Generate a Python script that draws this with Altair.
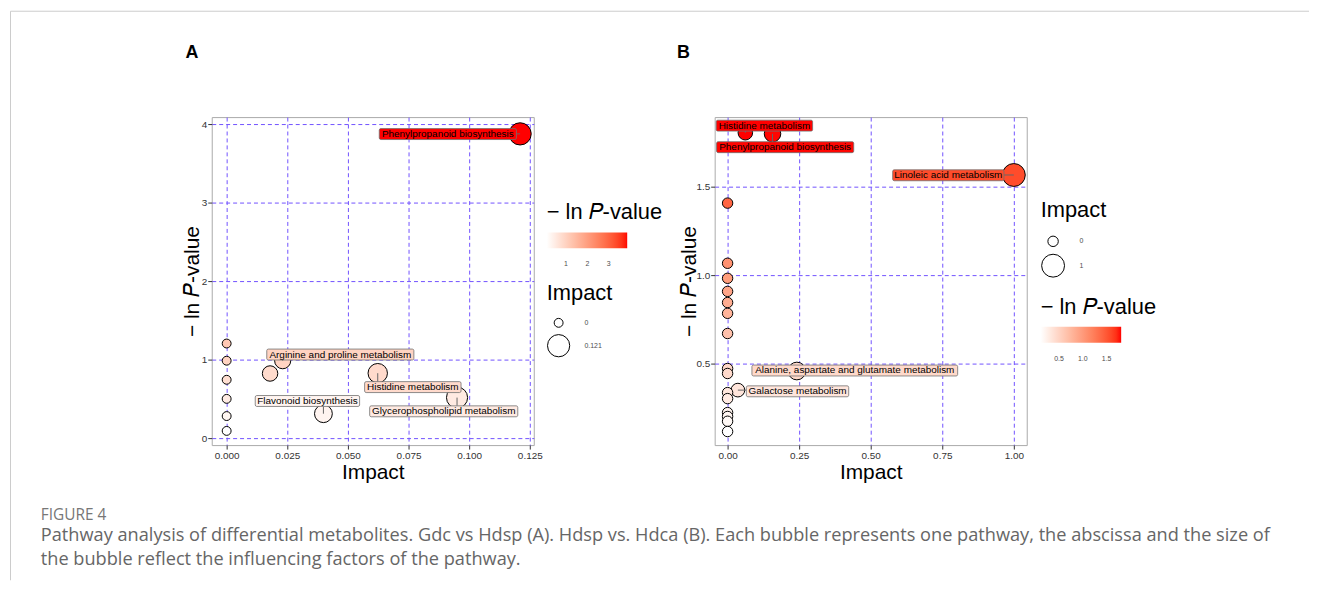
import altair as alt
import pandas as pd

# ---------------- data ----------------
# Panel A : Gdc vs Hdsp
a_impact = [0.121, 0.0231, 0.0623, 0.0399, 0.0950, 0.0179, 0.0, 0.0, 0.0, 0.0, 0.0, 0.0]
a_lnp = [3.875, 0.986, 0.827, 0.311, 0.516, 0.823, 1.205, 0.986, 0.743, 0.500, 0.281, 0.092]
a_label = ["Phenylpropanoid biosynthesis", "Arginine and proline metabolism",
           "Histidine metabolism", "Flavonoid biosynthesis",
           "Glycerophospholipid metabolism", "", "", "", "", "", "", ""]

# Panel B : Hdsp vs Hdca
b_impact = [0.062, 0.157, 1.0, 0.242, 0.036, 0.0, 0.0, 0.0, 0.0, 0.0, 0.0, 0.0,
            0.0, 0.0, 0.0, 0.0, 0.0, 0.0, 0.0, 0.0]
b_lnp = [1.805, 1.799, 1.566, 0.458, 0.350, 1.407, 1.067, 0.982, 0.908, 0.845,
         0.784, 0.670, 0.472, 0.444, 0.336, 0.302, 0.223, 0.201, 0.174, 0.116]
b_label = ["Histidine metabolism", "Phenylpropanoid biosynthesis",
           "Linoleic acid metabolism", "Alanine, aspartate and glutamate metabolism",
           "Galactose metabolism", "", "", "", "", "", "", "", "", "", "", "", "", "", "", ""]

a_x_ticks = [0, 0.025, 0.05, 0.075, 0.1, 0.125]
a_y_ticks = [0, 1, 2, 3, 4]
b_x_ticks = [0, 0.25, 0.5, 0.75, 1.0]
b_y_ticks = [0.5, 1.0, 1.5]
a_color_ticks = [1, 2, 3]
b_color_ticks = [0.5, 1.0, 1.5]
a_size_ticks = [0, 0.121]
b_size_ticks = [0, 1]

caption_head = "FIGURE 4"
caption_lines = [
    "Pathway analysis of differential metabolites. Gdc vs Hdsp (A). Hdsp vs. Hdca (B). Each bubble represents one pathway, the abscissa and the size of",
    "the bubble reflect the influencing factors of the pathway.",
]

FONT = "Liberation Sans"
LNP_TITLE = "\u2212 ln \U0001D443-value"

# axis domains (chosen so that grid lines fall on whole pixels)
a_xdom = [-0.025 * 15 / 61, 0.025 * 309 / 61]
a_ydom = [-7 / 79, 4 + 7 / 79]
b_xdom = [-13 / 288, 301 / 288]
b_ydom = [1.5 - 260 / 178, 1.5 + 70 / 178]

# label styling: offset of box centre from the point (px) and box size
a_label_style = {
    "Phenylpropanoid biosynthesis": (-72.7, 0.2, 138, 11),
    "Arginine and proline metabolism": (58, -6.2, 148, 11),
    "Histidine metabolism": (35.3, 14, 97, 11),
    "Flavonoid biosynthesis": (-16.1, -12.8, 105, 11),
    "Glycerophospholipid metabolism": (-13.4, 13.8, 149, 11),
}
b_label_style = {
    "Histidine metabolism": (19.2, -7.1, 97, 11),
    "Phenylpropanoid biosynthesis": (12.7, 13.5, 138, 11),
    "Linoleic acid metabolism": (-65.9, 0.3, 112, 11),
    "Alanine, aspartate and glutamate metabolism": (58.3, -0.5, 207, 11),
    "Galactose metabolism": (60, 1.2, 103, 11),
}


def clamp(v, lo, hi):
    return max(lo, min(hi, v))


def panel(df, width, height, xdom, ydom, xticks, yticks, xfmt, yfmt, size_dom, size_rng,
          color_leg, size_leg, label_style, extras, ytitle_pad):
    base = alt.Chart(df)
    x = alt.X("impact:Q", scale=alt.Scale(domain=xdom, nice=False, zero=False),
              axis=alt.Axis(values=xticks, format=xfmt, title="Impact"))
    y = alt.Y("lnp:Q", scale=alt.Scale(domain=ydom, nice=False, zero=False),
              axis=alt.Axis(values=yticks, format=yfmt, title=LNP_TITLE,
                            titlePadding=ytitle_pad))
    color = alt.Color("lnp:Q",
                      scale=alt.Scale(range=["#ffffff", "#ff0000"], interpolate="lab"),
                      legend=alt.Legend(**color_leg))
    size = alt.Size("impact:Q",
                    scale=alt.Scale(type="sqrt", domain=size_dom, range=size_rng),
                    legend=alt.Legend(**size_leg))
    layers = [base.mark_circle(opacity=1, stroke="black", strokeWidth=1)
              .encode(x=x, y=y, color=color, size=size)]
    segs, boxes, texts = [], [], []
    for name, (dx, dy, w, h) in label_style.items():
        sub = base.transform_filter(alt.datum.label == name)
        ex = clamp(0, dx - w / 2, dx + w / 2)
        ey = clamp(0, dy - h / 2, dy + h / 2)
        if abs(ex) + abs(ey) > 0:
            segs.append(sub.mark_rule(color="#666666", strokeWidth=1,
                                      x2Offset=ex, y2Offset=ey)
                        .encode(x=x, y=y, x2="impact:Q", y2="lnp:Q"))
        boxes.append(sub.mark_rect(xOffset=dx - w / 2, x2Offset=dx + w / 2,
                                   yOffset=dy - h / 2, y2Offset=dy + h / 2,
                                   stroke="#707070", strokeWidth=0.8, cornerRadius=1.5)
                     .encode(x=x, x2="impact:Q", y=y, y2="lnp:Q", color=color))
        texts.append(sub.mark_text(dx=dx, dy=dy, fontSize=10, font=FONT,
                                   color="black", align="center", baseline="middle")
                     .encode(x=x, y=y, text="label:N"))
    layers += segs + boxes + texts + extras
    return alt.layer(*layers).properties(width=width, height=height)


one = pd.DataFrame({"k": [0]})

extras_a = [
    alt.Chart(one).mark_rule(color="#cccccc", strokeWidth=1)
    .encode(x=alt.value(-202.5), y=alt.value(-106.5), y2=alt.value(466)),
    alt.Chart(one).mark_rule(color="#cccccc", strokeWidth=1)
    .encode(x=alt.value(-202.5), x2=alt.value(1104), y=alt.value(-106.5)),
    alt.Chart(one).mark_text(font=FONT, fontSize=18, fontWeight="bold", color="black",
                             align="center", baseline="middle")
    .encode(x=alt.value(-20), y=alt.value(-64.5), text=alt.value("A")),
    alt.Chart(one).mark_text(font="Open Sans", fontSize=15.5, color="#777777",
                             align="left", baseline="middle")
    .encode(x=alt.value(-172), y=alt.value(400.5), text=alt.value(caption_head)),
    alt.Chart(one).mark_text(font="Open Sans", fontSize=18.3, color="#666666",
                             align="left", baseline="alphabetic", lineHeight=24)
    .encode(x=alt.value(-172), y=alt.value(427), text=alt.value(caption_lines)),
]
extras_b = [
    alt.Chart(one).mark_text(font=FONT, fontSize=18, fontWeight="bold", color="black",
                             align="center", baseline="middle")
    .encode(x=alt.value(-31.5), y=alt.value(-64.5), text=alt.value("B")),
]

common_grad = dict(orient="none", direction="horizontal", gradientLength=81,
                   gradientThickness=16, gradientStrokeWidth=0, titlePadding=8,
                   labelOffset=12, title=LNP_TITLE)
common_sym = dict(orient="none", title="Impact", symbolFillColor="white",
                  symbolStrokeColor="black", symbolStrokeWidth=1, titlePadding=13,
                  labelOffset=14, rowPadding=2, symbolType="circle", format=".3~f")

df_a = pd.DataFrame({"impact": a_impact, "lnp": a_lnp, "label": a_label})
df_b = pd.DataFrame({"impact": b_impact, "lnp": b_lnp, "label": b_label})

pa = panel(df_a, 324, 330, a_xdom, a_ydom, a_x_ticks, a_y_ticks,
           ".3f", "d", [0, 0.121], [80, 500],
           dict(common_grad, legendX=337, legendY=86, values=a_color_ticks, format="d"),
           dict(common_sym, legendX=337, legendY=167, values=a_size_ticks),
           a_label_style, extras_a, -1)
pb = panel(df_b, 314, 330, b_xdom, b_ydom, b_x_ticks, b_y_ticks,
           ".2f", ".1f", [0, 1], [110, 530],
           dict(common_grad, legendX=328, legendY=181, values=b_color_ticks, format=".1f"),
           dict(common_sym, legendX=328, legendY=84, values=b_size_ticks),
           b_label_style, extras_b, -4)

chart = (
    alt.hconcat(pa, pb, spacing=182, bounds="flush")
    .resolve_scale(color="independent", size="independent")
    .resolve_legend(color="independent", size="independent")
    .properties(padding={"left": 1, "top": 0, "right": 2, "bottom": 0})
    .configure(font=FONT)
    .configure_view(stroke="#aaaaaa", strokeWidth=1)
    .configure_axis(labelFont=FONT, labelFontSize=10, labelColor="#333333",
                    tickColor="#333333", tickSize=4, tickWidth=1, domain=False,
                    grid=True, gridColor="#7152ff", gridDash=[4, 3], gridWidth=1,
                    titleFont=FONT, titleFontSize=21, titleFontWeight="normal",
                    titleColor="black", labelPadding=1)
    .configure_axisX(titlePadding=2)
    .configure_legend(titleFont=FONT, titleFontSize=22, titleFontWeight="normal",
                      titleColor="black", labelFont=FONT, labelFontSize=7,
                      labelColor="#4d4d4d")
)

chart.save("out.html", embed_options={"renderer": "svg", "actions": False})
